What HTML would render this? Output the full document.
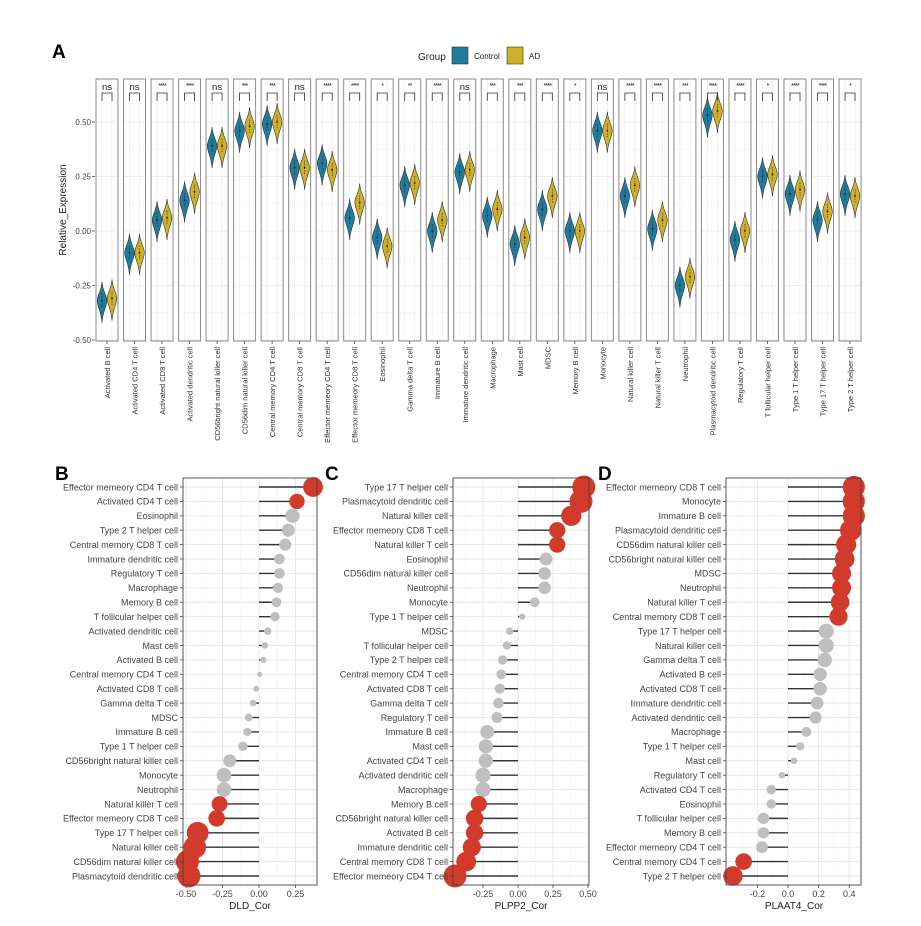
<!DOCTYPE html>
<html><head><meta charset="utf-8"><style>
body{margin:0;background:#fff}
svg{font-family:"Liberation Sans",sans-serif}
</style></head><body>
<svg id="s" width="921" height="921" viewBox="0 0 921 921" xmlns="http://www.w3.org/2000/svg"></svg>
<script>
const s=document.getElementById('s');let h='';
const T=(x,y,t,st,tr)=>{h+=`<text x="${x}" y="${y}" style="${st||''}"${tr?` transform="${tr}"`:''}>${t}</text>`;};
const CC='#1f7c9c',CA='#cfb02a';
T(52,58,'A','font-size:19px;font-weight:bold');
T(418,60,'Group','font-size:10px;fill:#222');
h+=`<rect x="452" y="47" width="16" height="17" fill="${CC}" stroke="#333" stroke-width="0.6"/>`;
T(474,59,'Control','font-size:8px;fill:#222');
h+=`<rect x="507" y="47" width="16" height="17" fill="${CA}" stroke="#333" stroke-width="0.6"/>`;
T(529,59,'AD','font-size:8px;fill:#222');
const yA=v=>231-218*v;
[[0.5,'0.50'],[0.25,'0.25'],[0,'0.00'],[-0.25,'-0.25'],[-0.5,'-0.50']].forEach(([v,t])=>{
 T(91,yA(v)+3,t,'font-size:8px;fill:#444;text-anchor:end');
 h+=`<line x1="92" x2="95" y1="${yA(v)}" y2="${yA(v)}" stroke="#444" stroke-width="0.8"/>`;});
T(66,210,'Relative_Expression','font-size:10px;fill:#222;text-anchor:middle','rotate(-90 66 210)');
const A=[['Activated B cell',-.32,-.31,'ns'],['Activated CD4 T cell',-.10,-.10,'ns'],['Activated CD8 T cell',.05,.06,'****'],['Activated dendritic cell',.14,.18,'****'],['CD56bright natural killer cell',.39,.39,'ns'],['CD56dim natural killer cell',.46,.48,'***'],['Central memory CD4 T cell',.49,.50,'***'],['Central memory CD8 T cell',.29,.29,'ns'],['Effector memeory CD4 T cell',.31,.28,'****'],['Effector memeory CD8 T cell',.06,.13,'****'],['Eosinophil',-.03,-.07,'*'],['Gamma delta T cell',.21,.22,'**'],['Immature  B cell',0,.05,'****'],['Immature dendritic cell',.27,.28,'ns'],['Macrophage',.07,.10,'***'],['Mast cell',-.06,-.03,'***'],['MDSC',.10,.16,'****'],['Memory B cell',0,0,'*'],['Monocyte',.46,.46,'ns'],['Natural killer cell',.16,.21,'****'],['Natural killer T cell',.01,.05,'****'],['Neutrophil',-.25,-.21,'***'],['Plasmacytoid dendritic cell',.53,.55,'****'],['Regulatory T cell',-.04,0,'****'],['T follicular helper cell',.25,.26,'*'],['Type 1 T helper cell',.17,.19,'****'],['Type 17 T helper cell',.05,.09,'****'],['Type 2 T helper cell',.17,.16,'*']];
function vio(cx,v,col){const y=yA(v);const up=19,dn=22,w=4.8;
 return `<path d="M${cx},${y-up} C${cx+0.8},${y-9} ${cx+w},${y-6} ${cx+w},${y} C${cx+w},${y+6} ${cx+0.8},${y+10} ${cx},${y+dn} C${cx-0.8},${y+10} ${cx-w},${y+6} ${cx-w},${y} C${cx-w},${y-6} ${cx-0.8},${y-9} ${cx},${y-up}Z" fill="${col}" stroke="#333" stroke-width="0.6"/><line x1="${cx}" x2="${cx}" y1="${y-7}" y2="${y+7}" stroke="#222" stroke-width="0.7" stroke-dasharray="1.2,1.2"/><circle cx="${cx}" cy="${y}" r="0.9" fill="#222"/>`;}
A.forEach((d,i)=>{const L=96+i*27.52,cx=L+11;
 let g='';[0.625,0.375,0.125,-0.125,-0.375].forEach(v=>g+=`<line x1="${L}" x2="${L+22}" y1="${yA(v)}" y2="${yA(v)}" stroke="#f2f2f2" stroke-width="0.5"/>`);
 [0.5,0.25,0,-0.25,-0.5].forEach(v=>g+=`<line x1="${L}" x2="${L+22}" y1="${yA(v)}" y2="${yA(v)}" stroke="#e8e8e8" stroke-width="0.8"/>`);
 g+=`<line x1="${cx-5}" x2="${cx-5}" y1="79" y2="341" stroke="#ececec" stroke-width="0.8"/><line x1="${cx+5}" x2="${cx+5}" y1="79" y2="341" stroke="#ececec" stroke-width="0.8"/>`;
 h+=g;
 h+=vio(cx-5,d[1],CC)+vio(cx+5,d[2],CA);
 h+=`<rect x="${L}" y="79" width="22" height="262" fill="none" stroke="#8a8a8a" stroke-width="1"/>`;
 h+=`<path d="M${cx-5},101 V93 H${cx+5} V101" fill="none" stroke="#333" stroke-width="0.8"/>`;
 if(d[3]=='ns')T(cx,90,'ns','font-size:9.5px;fill:#222;text-anchor:middle');else T(cx,88,d[3],'font-size:7px;fill:#222;text-anchor:middle;letter-spacing:-0.8px');
 h+=`<line x1="${cx}" x2="${cx}" y1="341" y2="344" stroke="#444" stroke-width="0.8"/>`;
 T(cx+3,347,d[0],'font-size:7.5px;fill:#333;text-anchor:end',`rotate(-90 ${cx+3} 347)`);
});
const RED='#d23a2c',GR='#bfbfbf';
function lol(lbl,L,R,x0,sc,ticks,title,tx,data,lx){
 T(lx,480,lbl,'font-size:19px;font-weight:bold');
 const top=478,bot=885,y0=487,p=(876-487)/27;
 ticks.forEach((t,i)=>{const x=x0+sc*t[0];h+=`<line x1="${x}" x2="${x}" y1="${top}" y2="${bot}" stroke="#e6e6e6" stroke-width="0.9"/>`;
  const st=ticks[1][0]-ticks[0][0];
  const xm=x0+sc*(t[0]+st/2);if(xm<R)h+=`<line x1="${xm}" x2="${xm}" y1="${top}" y2="${bot}" stroke="#f2f2f2" stroke-width="0.6"/>`;
  if(i==0){const xn=x0+sc*(t[0]-st/2);if(xn>L)h+=`<line x1="${xn}" x2="${xn}" y1="${top}" y2="${bot}" stroke="#f2f2f2" stroke-width="0.6"/>`;}
  h+=`<line x1="${x}" x2="${x}" y1="${bot}" y2="${bot+3}" stroke="#444" stroke-width="0.8"/>`;
  T(x,bot+12,t[1],'font-size:9px;fill:#444;text-anchor:middle');});
 data.forEach((d,i)=>{const y=y0+i*p;h+=`<line x1="${L}" x2="${R}" y1="${y}" y2="${y}" stroke="#e6e6e6" stroke-width="0.9"/>`;});
 data.forEach((d,i)=>{const y=y0+i*p,x=x0+sc*d[1];const r=Math.min(11.5,2.5+20*Math.abs(d[1]));
  h+=`<line x1="${x0}" x2="${x}" y1="${y}" y2="${y}" stroke="#333" stroke-width="1.4"/>`;
  h+=`<circle cx="${x}" cy="${y}" r="${r}" fill="${d[2]?RED:GR}"/>`;
  h+=`<line x1="${L-3}" x2="${L}" y1="${y}" y2="${y}" stroke="#444" stroke-width="0.8"/>`;
  T(L-5,y+3.3,d[0],'font-size:9px;fill:#444;text-anchor:end');});
 h+=`<rect x="${L}" y="${top}" width="${R-L}" height="${bot-top}" fill="none" stroke="#444" stroke-width="0.9"/>`;
 T(tx,909,title,'font-size:10px;fill:#222;text-anchor:middle');
}
lol('B',183,317,259,146,[[-0.5,'-0.50'],[-0.25,'-0.25'],[0,'0.00'],[0.25,'0.25']],'DLD_Cor',250,[
['Effector memeory CD4 T cell',.37,1],['Activated CD4 T cell',.26,1],['Eosinophil',.23],['Type 2 T helper cell',.20],['Central memory CD8 T cell',.18],['Immature dendritic cell',.14],['Regulatory T cell',.14],['Macrophage',.13],['Memory B cell',.12],['T follicular helper cell',.11],['Activated dendritic cell',.06],['Mast cell',.04],['Activated B cell',.03],['Central memory CD4 T cell',.005],['Activated CD8 T cell',-.02],['Gamma delta T cell',-.04],['MDSC',-.07],['Immature  B cell',-.08],['Type 1 T helper cell',-.11],['CD56bright natural killer cell',-.20],['Monocyte',-.24],['Neutrophil',-.24],['Natural killer T cell',-.27,1],['Effector memeory CD8 T cell',-.29,1],['Type 17 T helper cell',-.42,1],['Natural killer cell',-.44,1],['CD56dim natural killer cell',-.49,1],['Plasmacytoid dendritic cell',-.48,1]],55);
lol('C',453,589,518,140,[[-0.25,'-0.25'],[0,'0.00'],[0.25,'0.25'],[0.5,'0.50']],'PLPP2_Cor',521,[
['Type 17 T helper cell',.47,1],['Plasmacytoid dendritic cell',.45,1],['Natural killer cell',.38,1],['Effector memeory CD8 T cell',.28,1],['Natural killer T cell',.28,1],['Eosinophil',.20],['CD56dim natural killer cell',.19],['Neutrophil',.19],['Monocyte',.12],['Type 1 T helper cell',.03],['MDSC',-.06],['T follicular helper cell',-.08],['Type 2 T helper cell',-.11],['Central memory CD4 T cell',-.12],['Activated CD8 T cell',-.13],['Gamma delta T cell',-.14],['Regulatory T cell',-.15],['Immature  B cell',-.22],['Mast cell',-.23],['Activated CD4 T cell',-.23],['Activated dendritic cell',-.25],['Macrophage',-.25],['Memory B cell',-.28,1],['CD56bright natural killer cell',-.31,1],['Activated B cell',-.31,1],['Immature dendritic cell',-.33,1],['Central memory CD8 T cell',-.37,1],['Effector memeory CD4 T cell',-.45,1]],325);
lol('D',726,861,788,153,[[-0.2,'-0.2'],[0,'0.0'],[0.2,'0.2'],[0.4,'0.4']],'PLAAT4_Cor',794,[
['Effector memeory CD8 T cell',.43,1],['Monocyte',.43,1],['Immature  B cell',.43,1],['Plasmacytoid dendritic cell',.41,1],['CD56dim natural killer cell',.38,1],['CD56bright natural killer cell',.37,1],['MDSC',.35,1],['Neutrophil',.35,1],['Natural killer T cell',.34,1],['Central memory CD8 T cell',.33,1],['Type 17 T helper cell',.25],['Natural killer cell',.25],['Gamma delta T cell',.24],['Activated B cell',.21],['Activated CD8 T cell',.21],['Immature dendritic cell',.19],['Activated dendritic cell',.18],['Macrophage',.12],['Type 1 T helper cell',.08],['Mast cell',.04],['Regulatory T cell',-.04],['Activated CD4 T cell',-.11],['Eosinophil',-.11],['T follicular helper cell',-.16],['Memory B cell',-.16],['Effector memeory CD4 T cell',-.17],['Central memory CD4 T cell',-.29,1],['Type 2 T helper cell',-.36,1]],598);
s.innerHTML=h;
</script>
</body></html>
